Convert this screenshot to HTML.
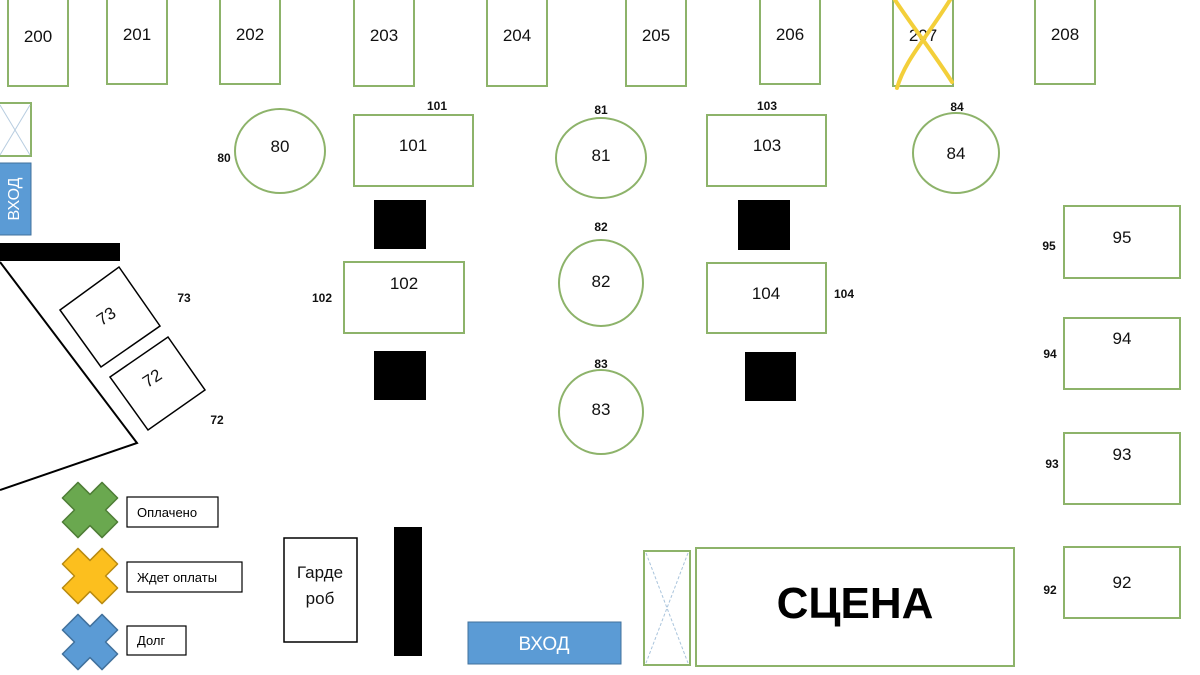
<!DOCTYPE html>
<html><head><meta charset="utf-8"><style>
html,body{margin:0;padding:0;background:#fff;}
svg{display:block;font-family:"Liberation Sans","DejaVu Sans",sans-serif;}
.g{fill:#fff;stroke:#8db36a;stroke-width:2;}
.t{font-size:17px;fill:#111;text-anchor:middle;}
.s{font-size:12px;font-weight:bold;fill:#111;text-anchor:middle;}
</style></head><body>
<svg width="1200" height="675" viewBox="0 0 1200 675" xmlns="http://www.w3.org/2000/svg">
<rect width="1200" height="675" fill="#fff"/>
<!-- top row -->
<g>
<rect class="g" x="8" y="-2" width="60" height="88"/><text class="t" x="38" y="42">200</text>
<rect class="g" x="107" y="-2" width="60" height="86"/><text class="t" x="137" y="40">201</text>
<rect class="g" x="220" y="-2" width="60" height="86"/><text class="t" x="250" y="40">202</text>
<rect class="g" x="354" y="-2" width="60" height="88"/><text class="t" x="384" y="41">203</text>
<rect class="g" x="487" y="-2" width="60" height="88"/><text class="t" x="517" y="41">204</text>
<rect class="g" x="626" y="-2" width="60" height="88"/><text class="t" x="656" y="41">205</text>
<rect class="g" x="760" y="-2" width="60" height="86"/><text class="t" x="790" y="40">206</text>
<rect class="g" x="893" y="-2" width="60" height="88"/><text class="t" x="923" y="41">207</text>
<path d="M897,88 C905,60 925,40 950,0 M895,0 C915,30 935,55 952,82" stroke="#f3cf3a" stroke-width="4" fill="none" stroke-linecap="round"/>
<rect class="g" x="1035" y="-2" width="60" height="86"/><text class="t" x="1065" y="40">208</text>
</g>
<!-- left entrance -->
<rect class="g" x="-2" y="103" width="33" height="53"/>
<path d="M0,105 L30,155 M30,105 L0,155" stroke="#b8cde0" stroke-width="1"/>
<rect x="-2" y="163" width="33" height="72" fill="#5b9bd5" stroke="#41719c"/>
<text x="15" y="199" font-size="16" fill="#fff" text-anchor="middle" transform="rotate(-90 15 199)" dominant-baseline="middle">ВХОД</text>
<rect x="0" y="243" width="120" height="18" fill="#000"/>
<polyline points="0,262 137,443 0,490" fill="none" stroke="#000" stroke-width="2"/>
<polygon points="60,310 119,267 160,326 101,367" fill="#fff" stroke="#000" stroke-width="1.5"/>
<text class="t" x="106" y="322" transform="rotate(-33 106 316)">73</text>
<polygon points="110,377 168,337 205,390 148,430" fill="#fff" stroke="#000" stroke-width="1.5"/>
<text class="t" x="152" y="384" transform="rotate(-33 152 378)">72</text>
<text class="s" x="184" y="302">73</text>
<text class="s" x="217" y="424">72</text>
<!-- circles -->
<ellipse class="g" cx="280" cy="151" rx="45" ry="42"/><text class="t" x="280" y="152">80</text><text class="s" x="224" y="162">80</text>
<ellipse class="g" cx="601" cy="158" rx="45" ry="40"/><text class="t" x="601" y="161">81</text><text class="s" x="601" y="114">81</text>
<ellipse class="g" cx="601" cy="283" rx="42" ry="43"/><text class="t" x="601" y="287">82</text><text class="s" x="601" y="231">82</text>
<ellipse class="g" cx="601" cy="412" rx="42" ry="42"/><text class="t" x="601" y="415">83</text><text class="s" x="601" y="368">83</text>
<ellipse class="g" cx="956" cy="153" rx="43" ry="40"/><text class="t" x="956" y="159">84</text><text class="s" x="957" y="111">84</text>
<!-- tables -->
<rect class="g" x="354" y="115" width="119" height="71"/><text class="t" x="413" y="151">101</text><text class="s" x="437" y="110">101</text>
<rect class="g" x="344" y="262" width="120" height="71"/><text class="t" x="404" y="289">102</text><text class="s" x="322" y="302">102</text>
<rect class="g" x="707" y="115" width="119" height="71"/><text class="t" x="767" y="151">103</text><text class="s" x="767" y="110">103</text>
<rect class="g" x="707" y="263" width="119" height="70"/><text class="t" x="766" y="299">104</text><text class="s" x="844" y="298">104</text>
<rect x="374" y="200" width="52" height="49" fill="#000"/>
<rect x="374" y="351" width="52" height="49" fill="#000"/>
<rect x="738" y="200" width="52" height="50" fill="#000"/>
<rect x="745" y="352" width="51" height="49" fill="#000"/>
<!-- right -->
<rect class="g" x="1064" y="206" width="116" height="72"/><text class="t" x="1122" y="243">95</text><text class="s" x="1049" y="250">95</text>
<rect class="g" x="1064" y="318" width="116" height="71"/><text class="t" x="1122" y="344">94</text><text class="s" x="1050" y="358">94</text>
<rect class="g" x="1064" y="433" width="116" height="71"/><text class="t" x="1122" y="460">93</text><text class="s" x="1052" y="468">93</text>
<rect class="g" x="1064" y="547" width="116" height="71"/><text class="t" x="1122" y="588">92</text><text class="s" x="1050" y="594">92</text>
<!-- stage -->
<rect class="g" x="644" y="551" width="46" height="114"/>
<path d="M646,553 L688,663 M688,553 L646,663" stroke="#a9c4dc" stroke-width="1" stroke-dasharray="3,2"/>
<rect class="g" x="696" y="548" width="318" height="118"/>
<text x="855" y="618" font-size="44" font-weight="bold" text-anchor="middle" fill="#000">СЦЕНА</text>
<rect x="468" y="622" width="153" height="42" fill="#5b9bd5" stroke="#41719c"/>
<text x="544" y="650" font-size="19" fill="#fff" text-anchor="middle">ВХОД</text>
<rect x="394" y="527" width="28" height="129" fill="#000"/>
<rect x="284" y="538" width="73" height="104" fill="#fff" stroke="#000" stroke-width="1.5"/>
<text class="t" x="320" y="578">Гарде</text><text class="t" x="320" y="604">роб</text>
<!-- legend -->
<g transform="translate(90,510) rotate(45)"><polygon points="-11,-28 11,-28 11,-11 28,-11 28,11 11,11 11,28 -11,28 -11,11 -28,11 -28,-11 -11,-11" fill="#6aa84f" stroke="#4e7d36" stroke-width="1.5" stroke-linejoin="round"/></g>
<g transform="translate(90,576) rotate(45)"><polygon points="-11,-28 11,-28 11,-11 28,-11 28,11 11,11 11,28 -11,28 -11,11 -28,11 -28,-11 -11,-11" fill="#fcbf1e" stroke="#b88a10" stroke-width="1.5" stroke-linejoin="round"/></g>
<g transform="translate(90,642) rotate(45)"><polygon points="-11,-28 11,-28 11,-11 28,-11 28,11 11,11 11,28 -11,28 -11,11 -28,11 -28,-11 -11,-11" fill="#5b9bd5" stroke="#41719c" stroke-width="1.5" stroke-linejoin="round"/></g>
<rect x="127" y="497" width="91" height="30" fill="#fff" stroke="#000" stroke-width="1.2"/><text x="137" y="517" font-size="13" fill="#000">Оплачено</text>
<rect x="127" y="562" width="115" height="30" fill="#fff" stroke="#000" stroke-width="1.2"/><text x="137" y="582" font-size="13" fill="#000">Ждет оплаты</text>
<rect x="127" y="626" width="59" height="29" fill="#fff" stroke="#000" stroke-width="1.2"/><text x="137" y="645" font-size="13" fill="#000">Долг</text>
</svg>
</body></html>
